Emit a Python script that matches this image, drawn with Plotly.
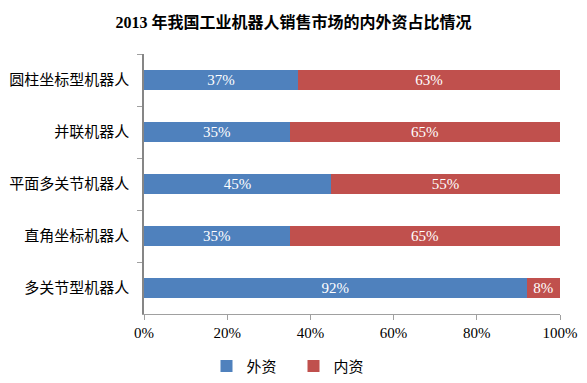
import plotly.graph_objects as go

categories = ["圆柱坐标型机器人", "并联机器人", "平面多关节机器人", "直角坐标机器人", "多关节型机器人"]
foreign = [37, 35, 45, 35, 92]
domestic = [63, 65, 55, 65, 8]
x_ticks = [0, 20, 40, 60, 80, 100]
x_tick_labels = ["0%", "20%", "40%", "60%", "80%", "100%"]

FONT = "Liberation Serif, Times New Roman, Noto Sans CJK SC, serif"

fig = go.Figure()
for name, vals, color in [("外资", foreign, "#4F81BD"), ("内资", domestic, "#C0504D")]:
    fig.add_trace(go.Bar(
        y=categories, x=vals, orientation="h", name=name,
        marker=dict(color=color, line=dict(width=0)),
        text=[f"{v}%" for v in vals], textposition="inside",
        insidetextanchor="middle", textangle=0, constraintext="none",
        textfont=dict(color="white", size=15, family=FONT),
    ))

fig.update_layout(
    width=587, height=383,
    barmode="stack", bargap=0.607,
    paper_bgcolor="white", plot_bgcolor="white",
    margin=dict(l=144, r=27, t=53.5, b=68.5, autoexpand=False),
    font=dict(family=FONT, size=15, color="black"),
    title=dict(text="<b>2013 年我国工业机器人销售市场的内外资占比情况</b>",
               x=0.5, xanchor="center", y=1 - 22.5 / 383, yanchor="middle",
               font=dict(size=16, family=FONT, color="black")),
    xaxis=dict(range=[0, 100], tickvals=x_ticks, ticktext=x_tick_labels,
               showgrid=False, zeroline=False, showline=True,
               linecolor="#A0A0A0", linewidth=1,
               ticks="outside", ticklen=5, tickcolor="#A0A0A0",
               tickfont=dict(size=15, family=FONT), fixedrange=True),
    yaxis=dict(autorange="reversed", showgrid=False, zeroline=False,
               showline=True, linecolor="#868686", linewidth=1.5,
               ticks="outside", ticklen=5, tickcolor="#A0A0A0",
               tickson="boundaries", ticklabelstandoff=10,
               tickfont=dict(size=15, family=FONT)),
    legend=dict(orientation="h", xref="container", x=0.5, xanchor="center",
                y=-0.201, yanchor="middle",
                font=dict(size=15, family=FONT), traceorder="normal",
                itemwidth=30, entrywidth=42),
)

fig.write_html("out.html", config={"displayModeBar": False},
               post_script="document.body.style.margin='0';")
